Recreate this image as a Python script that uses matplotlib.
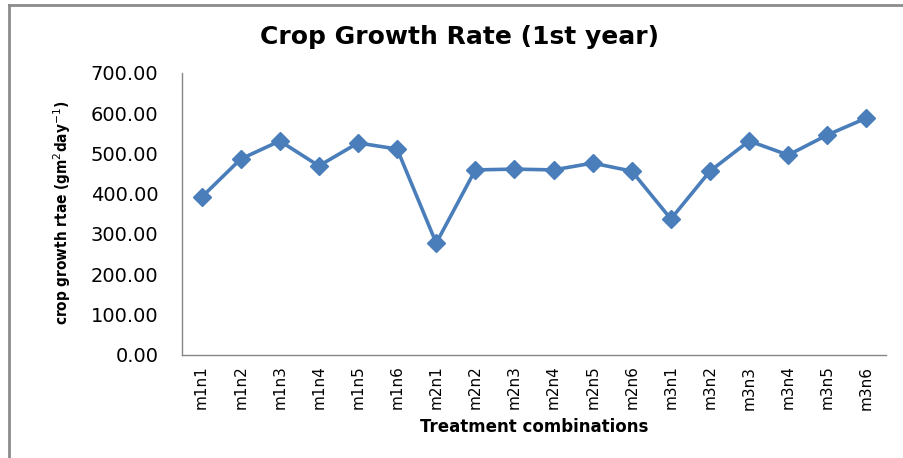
import numpy as np
import matplotlib
matplotlib.use("Agg")
import matplotlib.pyplot as plt
from matplotlib.lines import Line2D

treatments = ["m1n1", "m1n2", "m1n3", "m1n4", "m1n5", "m1n6",
              "m2n1", "m2n2", "m2n3", "m2n4", "m2n5", "m2n6",
              "m3n1", "m3n2", "m3n3", "m3n4", "m3n5", "m3n6"]
cgr = [391, 486, 531, 469, 526, 511,
       277, 459, 461, 459, 476, 456,
       337, 456, 531, 496, 546, 588]
yticks = [0, 100, 200, 300, 400, 500, 600, 700]

W, H = 904, 458
fig = plt.figure(figsize=(W / 100, H / 100), dpi=100)
ax = fig.add_axes([182 / W, 1 - 354.5 / H, (886 - 182) / W, (354.5 - 73) / H])

x = np.arange(len(treatments))
ax.plot(x, cgr, color="#4a7ebb", lw=2.6, marker="D", markersize=9,
        markerfacecolor="#4a7ebb", markeredgecolor="#4a7ebb")

ax.set_xlim(-0.5, len(treatments) - 0.5)
ax.set_ylim(0, 700)
ax.set_yticks(yticks)
ax.set_yticklabels([f"{v:.2f}" for v in yticks], fontsize=14)
ax.set_xticks(x)
ax.set_xticklabels(treatments, rotation=90, fontsize=11)
ax.tick_params(axis="y", length=0, pad=17)
ax.tick_params(axis="x", length=0, pad=8)

for s in ["top", "right"]:
    ax.spines[s].set_visible(False)
for s in ["left", "bottom"]:
    ax.spines[s].set_color("#868686")
    ax.spines[s].set_linewidth(1)

ax.set_xlabel("Treatment combinations", fontsize=12, fontweight="bold", labelpad=6)
fig.text(62 / W, 1 - 213 / H, "crop growth rtae (gm$^{2}$day$^{-1}$)",
         rotation=90, ha="center", va="center", fontsize=11, fontweight="bold",
         fontstretch="condensed", family="DejaVu Sans")
fig.text(460 / W, 1 - 37 / H, "Crop Growth Rate (1st year)",
         ha="center", va="center", fontsize=18, fontweight="bold")

# chart border (only left and top edges visible in the crop)
fig.add_artist(Line2D([8.5 / W, 8.5 / W], [0, 1 - 5 / H], color="#8c8c8c", lw=2,
                      transform=fig.transFigure))
fig.add_artist(Line2D([8.5 / W, 1], [1 - 5 / H, 1 - 5 / H], color="#8c8c8c", lw=2,
                      transform=fig.transFigure))

fig.savefig("out.png", dpi=100)
